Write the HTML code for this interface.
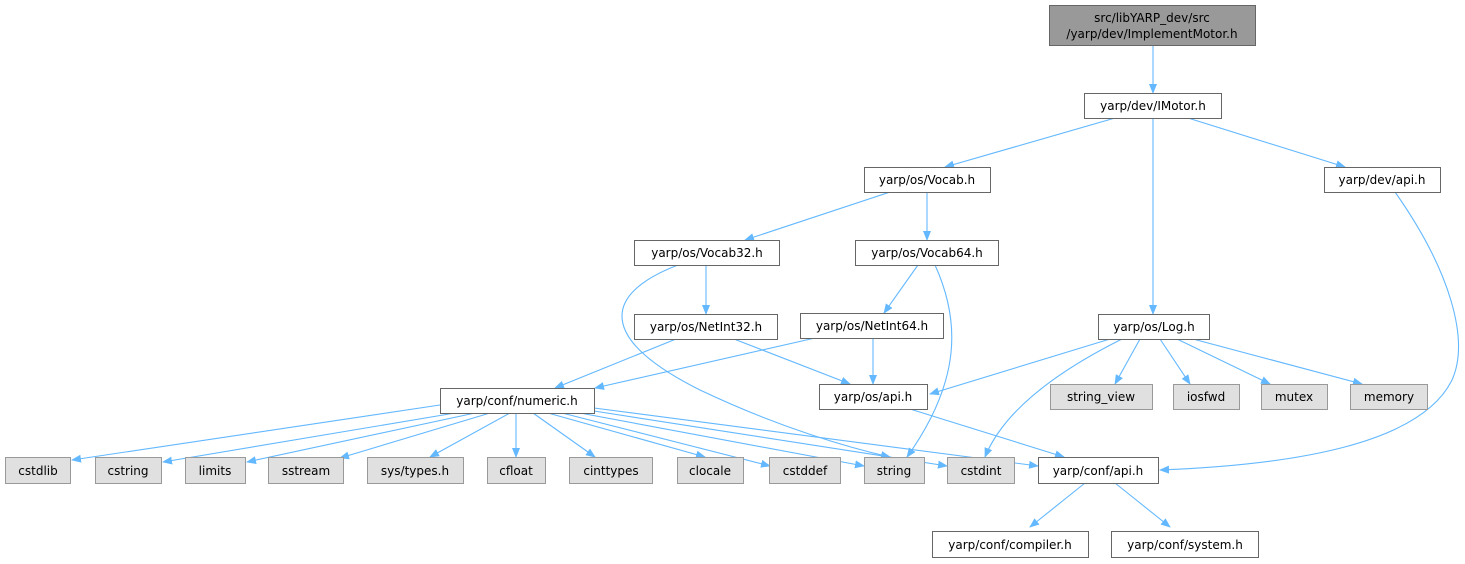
<!DOCTYPE html>
<html><head><meta charset="utf-8"><style>
html,body{margin:0;padding:0;background:#fff;width:1465px;height:564px;overflow:hidden}
svg text{font-family:"DejaVu Sans","Liberation Sans",sans-serif;font-size:12px;fill:#000}
</style></head><body>
<svg width="1465" height="564" viewBox="0 0 1465 564" xmlns="http://www.w3.org/2000/svg">
<defs><marker id="a" markerWidth="10" markerHeight="8" refX="9" refY="4" orient="auto" markerUnits="userSpaceOnUse"><path d="M0,0 L10,4 L0,8 z" fill="#63b8ff"/></marker></defs>
<g stroke="#63b8ff" stroke-width="1.1" fill="none" marker-end="url(#a)">
<path d="M1153,45 L1153,93"/>
<path d="M1115,118 L945,167"/>
<path d="M1188,118 L1345,167"/>
<path d="M1153,118 L1153,314"/>
<path d="M890,192 L745,240"/>
<path d="M927,192 L927,240"/>
<path d="M706,265 L706,314"/>
<path d="M678,265 C600,295 600,340 700,390 C780,428 850,448 890,457"/>
<path d="M918,265 L884,313"/>
<path d="M935,265 C960,320 962,380 907,457"/>
<path d="M676,339 L555,388"/>
<path d="M734,339 L850,384"/>
<path d="M815,338 L595,388"/>
<path d="M873,338 L873,384"/>
<path d="M1110,339 L930,394"/>
<path d="M1122,339 C1040,380 1000,420 985,457"/>
<path d="M1140,339 L1115,384"/>
<path d="M1160,339 L1190,384"/>
<path d="M1177,339 L1270,384"/>
<path d="M1193,339 L1362,384"/>
<path d="M910,409 L1064,457"/>
<path d="M1395,192 C1450,270 1470,340 1452,380 C1420,445 1290,465 1160,470"/>
<path d="M440,405 L72,460"/>
<path d="M455,413 L163,462"/>
<path d="M475,413 L247,462"/>
<path d="M490,413 L340,458"/>
<path d="M510,413 L430,457"/>
<path d="M516,413 L516,457"/>
<path d="M533,413 L595,457"/>
<path d="M548,413 L705,457"/>
<path d="M562,413 L770,466"/>
<path d="M580,413 L864,466"/>
<path d="M594,411 L947,466"/>
<path d="M594,408 L1038,466"/>
<path d="M1085,483 L1030,527"/>
<path d="M1115,483 L1170,527"/>
</g>
<g stroke="#666" stroke-width="1" fill="#fff">
<rect x="1049.5" y="5.5" width="206" height="40" fill="#999"/>
<rect x="1084.5" y="93.5" width="137" height="25"/>
<rect x="864.5" y="167.5" width="126" height="25"/>
<rect x="1324.5" y="167.5" width="116" height="25"/>
<rect x="634.5" y="240.5" width="145" height="25"/>
<rect x="855.5" y="240.5" width="143" height="25"/>
<rect x="634.5" y="314.5" width="143" height="25"/>
<rect x="800.5" y="313.5" width="143" height="25"/>
<rect x="1098.5" y="314.5" width="111" height="25"/>
<rect x="819.5" y="384.5" width="108" height="25"/>
<rect x="440.5" y="388.5" width="154" height="25"/>
<rect x="1038.5" y="457.5" width="120" height="26"/>
<rect x="932.5" y="531.5" width="156" height="26"/>
<rect x="1111.5" y="531.5" width="147" height="26"/>
</g>
<g stroke="#999" stroke-width="1" fill="#e0e0e0">
<rect x="1050.5" y="384.5" width="102" height="25"/>
<rect x="1173.5" y="384.5" width="66" height="25"/>
<rect x="1261.5" y="384.5" width="66" height="25"/>
<rect x="1350.5" y="384.5" width="77" height="25"/>
<rect x="5.5" y="457.5" width="65" height="26"/>
<rect x="95.5" y="457.5" width="66" height="26"/>
<rect x="185.5" y="457.5" width="60" height="26"/>
<rect x="268.5" y="457.5" width="75" height="26"/>
<rect x="367.5" y="457.5" width="96" height="26"/>
<rect x="487.5" y="457.5" width="58" height="26"/>
<rect x="569.5" y="457.5" width="83" height="26"/>
<rect x="677.5" y="457.5" width="66" height="26"/>
<rect x="769.5" y="457.5" width="71" height="26"/>
<rect x="864.5" y="457.5" width="60" height="26"/>
<rect x="947.5" y="457.5" width="67" height="26"/>
</g>
<g text-anchor="middle">
<text x="1152" y="22">src/libYARP_dev/src</text>
<text x="1152" y="38">/yarp/dev/ImplementMotor.h</text>
<text x="1153" y="110">yarp/dev/IMotor.h</text>
<text x="927" y="184">yarp/os/Vocab.h</text>
<text x="1382" y="184">yarp/dev/api.h</text>
<text x="707" y="257">yarp/os/Vocab32.h</text>
<text x="927" y="257">yarp/os/Vocab64.h</text>
<text x="706" y="331">yarp/os/NetInt32.h</text>
<text x="872" y="330">yarp/os/NetInt64.h</text>
<text x="1154" y="331">yarp/os/Log.h</text>
<text x="873" y="401">yarp/os/api.h</text>
<text x="517" y="405">yarp/conf/numeric.h</text>
<text x="1101" y="401">string_view</text>
<text x="1206" y="401">iosfwd</text>
<text x="1294" y="401">mutex</text>
<text x="1389" y="401">memory</text>
<text x="38" y="475">cstdlib</text>
<text x="128" y="475">cstring</text>
<text x="215" y="475">limits</text>
<text x="306" y="475">sstream</text>
<text x="415" y="475">sys/types.h</text>
<text x="516" y="475">cfloat</text>
<text x="611" y="475">cinttypes</text>
<text x="710" y="475">clocale</text>
<text x="805" y="475">cstddef</text>
<text x="894" y="475">string</text>
<text x="981" y="475">cstdint</text>
<text x="1098" y="475">yarp/conf/api.h</text>
<text x="1010" y="549">yarp/conf/compiler.h</text>
<text x="1185" y="549">yarp/conf/system.h</text>
</g>
</svg>
</body></html>
